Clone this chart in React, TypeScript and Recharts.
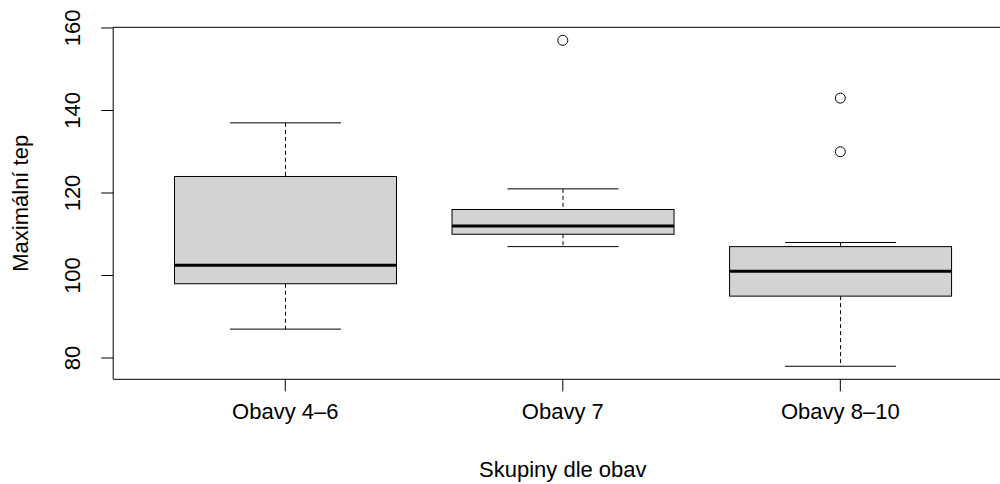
import React from "react";
import { ComposedChart, Bar, Scatter, XAxis, YAxis, ReferenceArea } from "recharts";

const categories = ["Obavy 4–6", "Obavy 7", "Obavy 8–10"];
const positions = [1, 2, 3];
const whiskerLow = [87, 107, 78];
const lowerQuartile = [98, 110, 95];
const medians = [102.5, 112, 101];
const upperQuartile = [124, 116, 107];
const whiskerHigh = [137, 121, 108];
const outlierGroups = [2, 3, 3];
const outlierValues = [157, 143, 130];
const yTicks = [80, 100, 120, 140, 160];

const FONT = "'Liberation Sans', Arial, Helvetica, sans-serif";
const FS = 22;

const boxData = categories.map((name, i) => ({
  name,
  x: positions[i],
  range: [whiskerLow[i], whiskerHigh[i]],
  lo: whiskerLow[i],
  q1: lowerQuartile[i],
  med: medians[i],
  q3: upperQuartile[i],
  hi: whiskerHigh[i],
}));

const outlierData = outlierValues.map((v, i) => ({ x: outlierGroups[i], y: v }));

// the bar spans whisker low..high, the rest is placed along the same linear scale
function BoxShape(props: any) {
  const { x, y, width, height, payload } = props;
  const top = Math.min(y, y + height);
  const h = Math.abs(height);
  const { lo, hi, q1, q3, med } = payload;
  const py = (v: number) => top + ((hi - v) / (hi - lo)) * h;
  const cx = x + width / 2;
  const capW = width / 2;
  return (
    <g>
      <line x1={cx} x2={cx} y1={py(hi)} y2={py(q3)} stroke="#000" strokeDasharray="4 3" />
      <line x1={cx} x2={cx} y1={py(q1)} y2={py(lo)} stroke="#000" strokeDasharray="4 3" />
      <line x1={cx - capW / 2} x2={cx + capW / 2} y1={py(hi)} y2={py(hi)} stroke="#000" />
      <line x1={cx - capW / 2} x2={cx + capW / 2} y1={py(lo)} y2={py(lo)} stroke="#000" />
      <rect x={x} y={py(q3)} width={width} height={py(q1) - py(q3)} fill="#d3d3d3" stroke="#000" />
      <line x1={x} x2={x + width} y1={py(med)} y2={py(med)} stroke="#000" strokeWidth={3} />
    </g>
  );
}

function XTick(props: any) {
  const { x, y, payload } = props;
  const idx = positions.indexOf(payload.value);
  return (
    <text x={x} y={y + 26} textAnchor="middle" fontSize={FS} fontFamily={FONT} fill="#000">
      {categories[idx]}
    </text>
  );
}

function YTick(props: any) {
  const { x, y, payload } = props;
  const bx = x - 19;
  return (
    <text x={bx} y={y} transform={`rotate(-90, ${bx}, ${y})`} textAnchor="middle" fontSize={FS} fontFamily={FONT} fill="#000">
      {payload.value}
    </text>
  );
}

export default function App() {
  return (
    <div style={{ position: "absolute", left: 0, top: 0, width: 1000, height: 484, overflow: "hidden", background: "#fff" }}>
      <ComposedChart width={1040} height={484} data={boxData} margin={{ top: 27.3, right: 27.6, bottom: 0, left: 0 }}>
        <XAxis
          dataKey="x"
          type="number"
          domain={[0.38, 3.62]}
          allowDataOverflow
          ticks={positions}
          tick={<XTick />}
          tickSize={12}
          tickLine={{ stroke: "#000" }}
          axisLine={false}
          height={104.7}
          label={{
            content: (p: any) => {
              const vb = p.viewBox;
              return (
                <text x={vb.x + vb.width / 2} y={477} textAnchor="middle" fontSize={FS} fontFamily={FONT} fill="#000">
                  Skupiny dle obav
                </text>
              );
            },
          }}
        />
        <YAxis
          type="number"
          domain={[74.84, 160.16]}
          allowDataOverflow
          ticks={yTicks}
          tick={<YTick />}
          tickSize={12}
          tickLine={{ stroke: "#000" }}
          axisLine={false}
          width={113.2}
          label={{
            content: (p: any) => {
              const vb = p.viewBox;
              const cy = vb.y + vb.height / 2;
              return (
                <text x={28.5} y={cy} transform={`rotate(-90, 28.5, ${cy})`} textAnchor="middle" fontSize={FS} fontFamily={FONT} fill="#000">
                  Maximální tep
                </text>
              );
            },
          }}
        />
        <ReferenceArea x1={0.38} x2={3.62} y1={74.84} y2={160.16} fill="none" stroke="#000" strokeWidth={1} />
        <Bar dataKey="range" barSize={222} shape={<BoxShape />} isAnimationActive={false} />
        <Scatter
          data={outlierData}
          dataKey="y"
          isAnimationActive={false}
          shape={(p: any) => <circle cx={p.cx} cy={p.cy} r={5} fill="none" stroke="#000" />}
        />
      </ComposedChart>
    </div>
  );
}
